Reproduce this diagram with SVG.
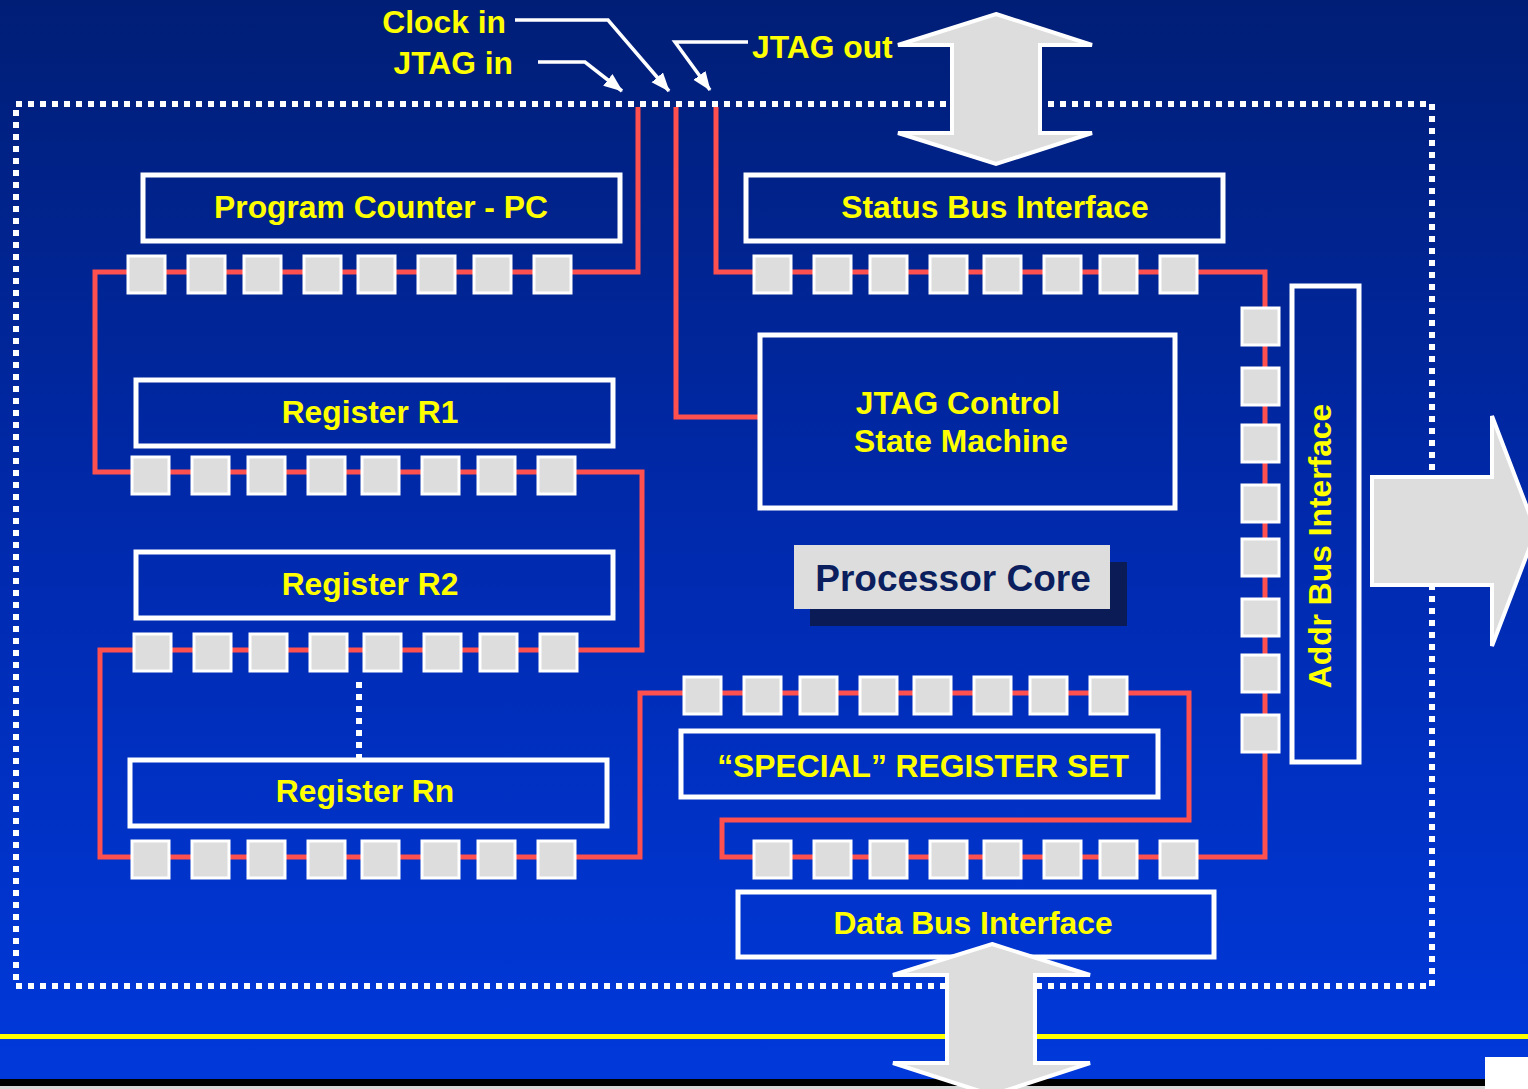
<svg xmlns="http://www.w3.org/2000/svg" xmlns:xlink="http://www.w3.org/1999/xlink" width="1528" height="1089" viewBox="0 0 1528 1089">
<defs>
<linearGradient id="bg" x1="0" y1="0" x2="0" y2="1">
<stop offset="0" stop-color="#001E76"/>
<stop offset="0.5" stop-color="#002AAE"/>
<stop offset="1" stop-color="#0039DC"/>
</linearGradient>
<rect id="sq" width="37" height="37" fill="#DDDDDD" stroke="#FFFFFF" stroke-width="3"/>
<marker id="ah" markerUnits="userSpaceOnUse" markerWidth="20" markerHeight="16" refX="18" refY="7.5" orient="auto">
<path d="M0,0 L19,7.5 L0,15 z" fill="#FFFFFF"/>
</marker>
</defs>
<style>
.t{font-family:"Liberation Sans",Arial,sans-serif;font-weight:bold;font-size:31.8px;fill:#FFFF00;text-anchor:middle}
.box{fill:none;stroke:#FFFFFF;stroke-width:5}
.red{fill:none;stroke:#FF5050;stroke-width:5}
.dots{fill:none;stroke:#FFFFFF;stroke-width:6;stroke-dasharray:6 6}
.wl{fill:none;stroke:#FFFFFF;stroke-width:3.5}
.arr{fill:#DDDDDD;stroke:#FFFFFF;stroke-width:4;stroke-linejoin:miter}
</style>
<rect x="0" y="0" width="1528" height="1089" fill="url(#bg)"/>
<rect x="0" y="1034" width="1528" height="5" fill="#FFFF00"/>
<rect x="0" y="1079" width="1485" height="7" fill="#000000"/>
<rect x="0" y="1086" width="1485" height="3" fill="#D8D8D8"/>
<rect x="1485" y="1057" width="43" height="32" fill="#FFFFFF"/>
<rect class="dots" x="16" y="104" width="1416" height="882"/>
<line class="dots" x1="359" y1="682" x2="359" y2="762"/>

<g id="connectors">
<path class="red" d="M638,107 V272 H95 V472 H642 V650 H100 V857 H640 V693 H1189 V820 H722 V857 H1265 V272 H716 V107"/>
<path class="red" d="M676,107 V417 H760"/>
<path class="wl" d="M515,20 H608 L669,91" marker-end="url(#ah)"/>
<path class="wl" d="M538,62 H585 L622,91" marker-end="url(#ah)"/>
<path class="wl" d="M748,42 H675 L710,90" marker-end="url(#ah)"/>
</g>

<g id="pc">
<rect class="box" x="143" y="175" width="477" height="66"/>
<text class="t" x="381" y="218">Program Counter - PC</text>
<use href="#sq" x="128" y="256"/><use href="#sq" x="188" y="256"/><use href="#sq" x="244" y="256"/><use href="#sq" x="304" y="256"/><use href="#sq" x="358" y="256"/><use href="#sq" x="418" y="256"/><use href="#sq" x="474" y="256"/><use href="#sq" x="534" y="256"/>
</g>

<g id="status-bus">
<rect class="box" x="746" y="175" width="477" height="66"/>
<text class="t" x="995" y="218">Status Bus Interface</text>
<use href="#sq" x="754" y="256"/><use href="#sq" x="814" y="256"/><use href="#sq" x="870" y="256"/><use href="#sq" x="930" y="256"/><use href="#sq" x="984" y="256"/><use href="#sq" x="1044" y="256"/><use href="#sq" x="1100" y="256"/><use href="#sq" x="1160" y="256"/>
</g>

<g id="r1">
<rect class="box" x="136" y="380" width="477" height="66"/>
<text class="t" x="370" y="423">Register R1</text>
<use href="#sq" x="132" y="457"/><use href="#sq" x="192" y="457"/><use href="#sq" x="248" y="457"/><use href="#sq" x="308" y="457"/><use href="#sq" x="362" y="457"/><use href="#sq" x="422" y="457"/><use href="#sq" x="478" y="457"/><use href="#sq" x="538" y="457"/>
</g>

<g id="r2">
<rect class="box" x="136" y="552" width="477" height="66"/>
<text class="t" x="370" y="595">Register R2</text>
<use href="#sq" x="134" y="634"/><use href="#sq" x="194" y="634"/><use href="#sq" x="250" y="634"/><use href="#sq" x="310" y="634"/><use href="#sq" x="364" y="634"/><use href="#sq" x="424" y="634"/><use href="#sq" x="480" y="634"/><use href="#sq" x="540" y="634"/>
</g>

<g id="rn">
<rect class="box" x="130" y="760" width="477" height="66"/>
<text class="t" x="365" y="802">Register Rn</text>
<use href="#sq" x="132" y="841"/><use href="#sq" x="192" y="841"/><use href="#sq" x="248" y="841"/><use href="#sq" x="308" y="841"/><use href="#sq" x="362" y="841"/><use href="#sq" x="422" y="841"/><use href="#sq" x="478" y="841"/><use href="#sq" x="538" y="841"/>
</g>

<g id="jtag-control">
<rect class="box" x="760" y="335" width="415" height="173"/>
<text class="t" x="958" y="414">JTAG Control</text>
<text class="t" x="961" y="452">State Machine</text>
</g>

<g id="processor-core">
<rect x="810" y="562" width="317" height="64" fill="#0A1B56"/>
<rect x="794" y="545" width="316" height="64" fill="#DDDDDD"/>
<text class="t" x="953" y="591" style="fill:#0B1F5E;font-size:37px">Processor Core</text>
</g>

<g id="special-regs">
<rect class="box" x="681" y="731" width="477" height="66"/>
<text class="t" x="923" y="777">“SPECIAL” REGISTER SET</text>
<use href="#sq" x="684" y="677"/><use href="#sq" x="744" y="677"/><use href="#sq" x="800" y="677"/><use href="#sq" x="860" y="677"/><use href="#sq" x="914" y="677"/><use href="#sq" x="974" y="677"/><use href="#sq" x="1030" y="677"/><use href="#sq" x="1090" y="677"/>
</g>

<g id="data-bus">
<rect class="box" x="738" y="892" width="476" height="65"/>
<text class="t" x="973" y="934">Data Bus Interface</text>
<use href="#sq" x="754" y="841"/><use href="#sq" x="814" y="841"/><use href="#sq" x="870" y="841"/><use href="#sq" x="930" y="841"/><use href="#sq" x="984" y="841"/><use href="#sq" x="1044" y="841"/><use href="#sq" x="1100" y="841"/><use href="#sq" x="1160" y="841"/>
</g>

<g id="addr-bus">
<rect class="box" x="1292" y="286" width="67" height="476"/>
<text class="t" transform="translate(1320,546) rotate(-90)" x="0" y="11">Addr Bus Interface</text>
<use href="#sq" x="1242" y="308"/><use href="#sq" x="1242" y="368"/><use href="#sq" x="1242" y="425"/><use href="#sq" x="1242" y="485"/><use href="#sq" x="1242" y="539"/><use href="#sq" x="1242" y="599"/><use href="#sq" x="1242" y="655"/><use href="#sq" x="1242" y="715"/>
</g>

<g id="arrows">
<path class="arr" d="M996,14 L1092,45 H1040 V133 H1092 L996,164 L898,133 H952 V45 H898 Z"/>
<path class="arr" d="M992,944 L1090,975 H1035 V1063 H1090 L992,1095 L893,1063 H947 V975 H893 Z"/>
<path class="arr" d="M1372,477 H1492 V416 L1536,531 L1492,646 V585 H1372 Z"/>
</g>

<g id="labels">
<text class="t" x="506" y="33" style="text-anchor:end">Clock in</text>
<text class="t" x="513" y="74" style="text-anchor:end">JTAG in</text>
<text class="t" x="752" y="58" style="text-anchor:start">JTAG out</text>
</g>
</svg>
